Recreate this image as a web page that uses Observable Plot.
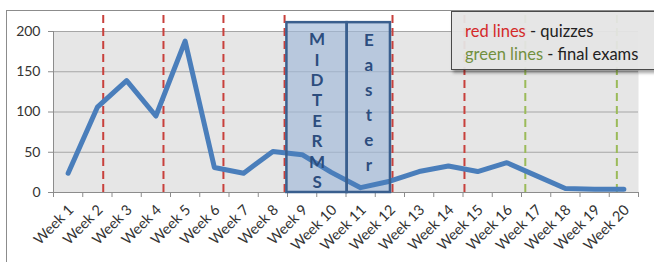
<!DOCTYPE html>
<html><head><meta charset="utf-8">
<script src="https://cdn.jsdelivr.net/npm/d3@7"></script>
<script src="https://cdn.jsdelivr.net/npm/@observablehq/plot@0.6"></script>
<style>
body{margin:0;background:#fff;}
#wrap{position:relative;width:654px;height:262px;overflow:hidden;font-family:Lato,"Open Sans",sans-serif;}
#frame{position:absolute;left:6px;top:10px;width:700px;height:300px;border-left:1.5px solid #8c8c8c;border-top:1.5px solid #8c8c8c;pointer-events:none;}
#legend{position:absolute;left:451px;top:11px;width:230px;height:59px;background:rgba(228,228,228,0.94);border:1px solid #4a4a4a;box-shadow:2px 3px 3px rgba(0,0,0,0.35);box-sizing:border-box;padding:8px 0 0 13px;font-size:16.5px;line-height:23px;color:#222;}
#legend .r{color:#d42a2a;}
#legend .g{color:#72903f;}
</style>
</head><body>
<div id="wrap"></div>
<script>
const weeks = ["Week 1","Week 2","Week 3","Week 4","Week 5","Week 6","Week 7","Week 8","Week 9","Week 10","Week 11","Week 12","Week 13","Week 14","Week 15","Week 16","Week 17","Week 18","Week 19","Week 20"];
const values = [24,106,139,95,188,31,24,51,47,25,6,14,26,33,26,37,21,5,4,4];
const yTicks = [0,50,100,150,200];
// dashed markers, in week units (week k centred at k)
const quizWeeks = [2.2,4.26,6.31,8.4,12.09,14.55];
const examWeeks = [16.63,19.76];
const markerTop = 226;
// shaded periods
const boxLabels = ["MIDTERMS","Easter"];
const boxStart = [8.48,10.54];
const boxEnd = [10.54,12.02];
const boxTop = 211;

const series = values.map((v,i)=>({week:i+1, value:v}));
const boxes = boxLabels.map((l,i)=>({label:l, x1:boxStart[i], x2:boxEnd[i], y2:boxTop}));
const boundaries = d3.range(0.5, weeks.length+1, 1);

const chart = Plot.plot({
  width:654, height:262,
  marginLeft:53, marginRight:16, marginTop:31, marginBottom:70,
  style:{fontFamily:"Lato, 'Open Sans', sans-serif", fontSize:"13px", color:"#333", background:"transparent"},
  x:{domain:[0.5, weeks.length+0.5]},
  y:{domain:[0,200]},
  marks:[
    Plot.frame({fill:"#e6e6e6", stroke:null}),
    Plot.gridY(yTicks, {stroke:"#a6a6a6", strokeOpacity:1, strokeWidth:1}),
    Plot.rectY(boxes, {x1:"x1", x2:"x2", y1:0, y2:"y2", fill:"#9fb8d8", fillOpacity:0.65}),
    Plot.ruleX(quizWeeks, {x:d=>d, y1:0, y2:markerTop, stroke:"#c8403c", strokeWidth:2, strokeDasharray:"8,5"}),
    Plot.ruleX(examWeeks, {x:d=>d, y1:0, y2:markerTop, stroke:"#9bbb59", strokeWidth:2, strokeDasharray:"8,5"}),
    Plot.ruleY([0], {stroke:"#8c8c8c"}),
    Plot.ruleX([0.5], {y1:0, y2:200, stroke:"#8c8c8c"}),
    Plot.axisY(yTicks, {tickSize:5, tickPadding:8, stroke:"#8c8c8c", fontSize:14, fill:"#333", label:null}),
    Plot.axisX(boundaries, {tickSize:5, tickFormat:()=>"", stroke:"#8c8c8c", label:null}),
    Plot.axisX(d3.range(1, weeks.length+1), {tickSize:0, tickPadding:15, dx:3, tickRotate:-45, tickFormat:d=>weeks[d-1], fontSize:14.5, fill:"#333", label:null}),
    Plot.line(series, {x:"week", y:"value", stroke:"#4a7ebb", strokeWidth:5, strokeLinejoin:"round", strokeLinecap:"round"}),
    Plot.rectY(boxes, {x1:"x1", x2:"x2", y1:0, y2:"y2", fill:"none", stroke:"#3a5f8e", strokeWidth:2.5}),
    Plot.text([boxes[0]], {x:d=>(d.x1+d.x2)/2, y:"y2", text:d=>d.label.split("").join("\n"), lineAnchor:"top", lineHeight:1.2, dy:8, fontSize:17, fontWeight:"bold", fill:"#2c4d7e"}),
    Plot.text([boxes[1]], {x:d=>(d.x1+d.x2)/2, y:"y2", text:d=>d.label.split("").join("\n"), lineAnchor:"top", lineHeight:1.47, dy:6, fontSize:17, fontWeight:"bold", fill:"#2c4d7e"})
  ]
});
const wrap = document.getElementById("wrap");
wrap.appendChild(chart);
const fr = document.createElement("div"); fr.id="frame"; wrap.appendChild(fr);
const lg = document.createElement("div"); lg.id="legend";
lg.innerHTML = '<span class="r">red lines</span> - quizzes<br><span class="g">green lines</span> - final exams';
wrap.appendChild(lg);
</script>
</body></html>
